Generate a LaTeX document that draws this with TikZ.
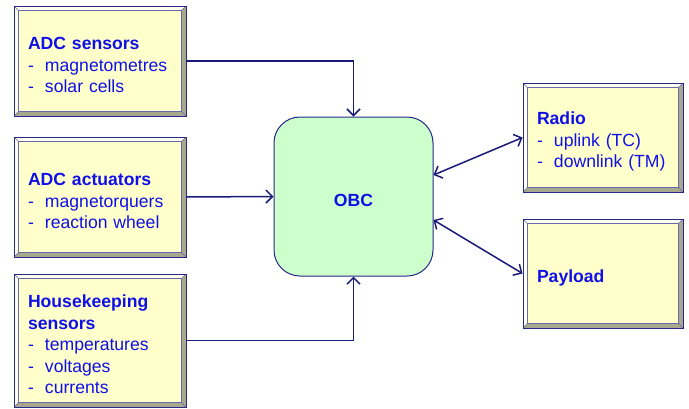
\documentclass[tikz,border=0pt]{standalone}
\usepackage{fontspec}
\setmainfont{Liberation Sans}
\usetikzlibrary{arrows.meta}

\definecolor{txtblue}{RGB}{16,16,230}
\definecolor{edgeblue}{RGB}{40,40,140}
\definecolor{linkblue}{RGB}{26,26,120}
\definecolor{facey}{RGB}{255,255,204}
\definecolor{bevlight}{RGB}{255,255,238}
\definecolor{bevdark}{RGB}{168,168,140}
\definecolor{obcgreen}{RGB}{204,255,204}

\newcommand{\itm}{\makebox[17pt][l]{-}}
% a tall strut on the first line pushes the text block slightly down
\newcommand{\toprl}{\rule{0pt}{21pt}}

\tikzset{
  bevelbox/.style={
    rectangle, draw=edgeblue, line width=0.9pt, fill=facey,
    inner xsep=14pt, inner ysep=0pt, align=left, anchor=center,
    text=txtblue,
    font=\fontsize{17.6}{21.5}\selectfont,
    path picture={
      \coordinate (nw) at (path picture bounding box.north west);
      \coordinate (se) at (path picture bounding box.south east);
      \coordinate (ne) at (path picture bounding box.north east);
      \coordinate (sw) at (path picture bounding box.south west);
      \fill[bevlight] (nw) -- (ne) -- ([shift={(-4.5pt,-4.5pt)}]ne)
        -- ([shift={(4.5pt,-4.5pt)}]nw) -- ([shift={(4.5pt,4.5pt)}]sw) -- (sw) -- cycle;
      \fill[bevdark] (se) -- (ne) -- ([shift={(-4.5pt,-4.5pt)}]ne)
        -- ([shift={(-4.5pt,4.5pt)}]se) -- ([shift={(4.5pt,4.5pt)}]sw) -- (sw) -- cycle;
      \draw[edgeblue!70, line width=0.5pt]
        ([shift={(4.5pt,-4.5pt)}]nw) rectangle ([shift={(-4.5pt,4.5pt)}]se);
      \draw[edgeblue!70, line width=0.4pt]
        (nw) -- ([shift={(4.5pt,-4.5pt)}]nw)
        (ne) -- ([shift={(-4.5pt,-4.5pt)}]ne)
        (se) -- ([shift={(-4.5pt,4.5pt)}]se)
        (sw) -- ([shift={(4.5pt,4.5pt)}]sw);
    }
  },
  obcbox/.style={
    rectangle, rounded corners=26pt, draw=edgeblue, line width=1pt,
    fill=obcgreen, text=txtblue,
    font=\fontsize{17.6}{21.5}\selectfont\bfseries,
    minimum width=159pt, minimum height=159pt
  },
  link/.style={draw=linkblue, line width=1.5pt,
    -{Straight Barb[length=6.5pt,width=13pt,line width=1.5pt]}},
  duplex/.style={draw=linkblue, line width=1.5pt,
    {Straight Barb[length=6.5pt,width=13pt,line width=1.5pt]}-{Straight Barb[length=6.5pt,width=13pt,line width=1.5pt]}}
}

\begin{document}
\begin{tikzpicture}[x=1pt, y=-1pt]
  \useasboundingbox (0,0) rectangle (689,408);

  % inputs on the left
  \node[bevelbox, minimum width=172pt, minimum height=110pt, text width=144pt]
    (sens) at (100,61)
    {\toprl\textbf{ADC sensors}\\ \itm magnetometres\\ \itm solar cells};
  \node[bevelbox, minimum width=172pt, minimum height=120pt, text width=144pt]
    (act) at (100,197)
    {\toprl\textbf{ADC actuators}\\ \itm magnetorquers\\ \itm reaction wheel};
  \node[bevelbox, minimum width=172pt, minimum height=133pt, text width=144pt]
    (hk) at (100,340.5)
    {\toprl\textbf{Housekeeping}\\ \textbf{sensors}\\ \itm temperatures\\ \itm voltages\\ \itm currents};

  % on-board computer
  \node[obcbox] (obc) at (353.5,196.5) {\toprl OBC};

  % peripherals on the right
  \node[bevelbox, minimum width=160pt, minimum height=109pt, text width=132pt]
    (radio) at (603,137.5)
    {\toprl\textbf{Radio}\\ \itm uplink (TC)\\ \itm downlink (TM)};
  \node[bevelbox, minimum width=160pt, minimum height=109pt, text width=132pt]
    (pay) at (603,273.5)
    {\toprl\textbf{Payload}};

  % connections
  \draw[link] (sens.east) -| (obc.north);
  \draw[link] (act.east) -- (obc.west);
  \draw[link] (hk.east) -| (obc.south);
  \draw[duplex] ([yshift=21.5pt]obc.east) -- (radio.west);
  \draw[duplex] ([yshift=-23.5pt]obc.east) -- (pay.west);
\end{tikzpicture}
\end{document}
